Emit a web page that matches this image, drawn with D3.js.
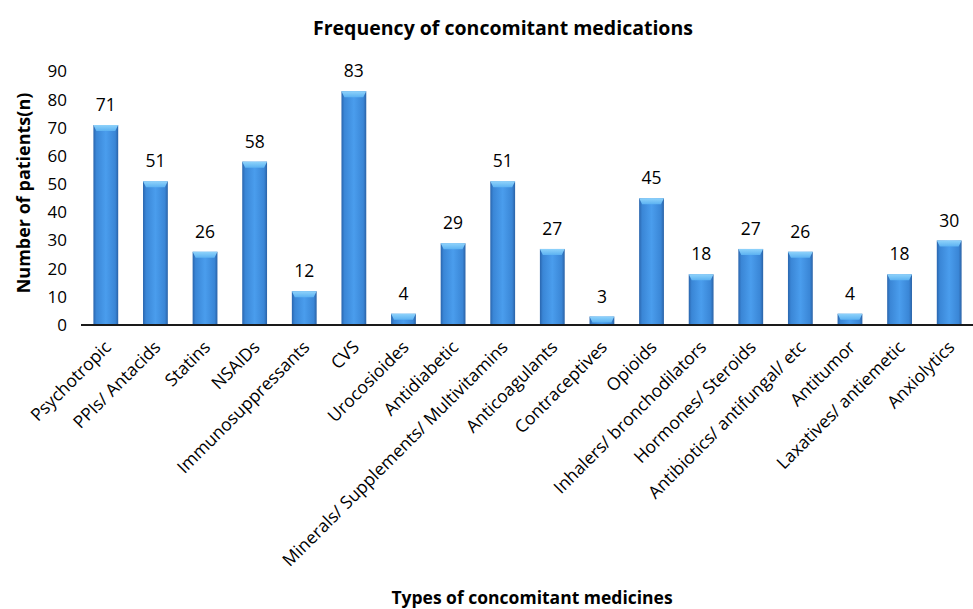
<!DOCTYPE html>
<html><head><meta charset="utf-8">
<script src="https://cdn.jsdelivr.net/npm/d3@7"></script>
<style>body{margin:0;background:#fff}svg{display:block}text{font-family:"Open Sans",sans-serif;fill:#000}</style>
</head><body>
<svg id="c" width="973" height="609"></svg>
<script>
const categories = ["Psychotropic","PPIs/ Antacids","Statins","NSAIDs","Immunosuppressants","CVS","Urocosioides","Antidiabetic","Minerals/ Supplements/ Multivitamins","Anticoagulants","Contraceptives","Opioids","Inhalers/ bronchodilators","Hormones/ Steroids","Antibiotics/ antifungal/ etc","Antitumor","Laxatives/ antiemetic","Anxiolytics"];
const values = [71,51,26,58,12,83,4,29,51,27,3,45,18,27,26,4,18,30];
const yTicks = [0,10,20,30,40,50,60,70,80,90];

const svg = d3.select("#c");
const x = d3.scaleBand().domain(categories).range([81, 974]).paddingInner(0.5).paddingOuter(0.25);
const y = d3.scaleLinear().domain([0, 90]).range([325, 71.5]);

const defs = svg.append("defs");
const g1 = defs.append("linearGradient").attr("id","barg").attr("x1","0").attr("x2","1").attr("y1","0").attr("y2","0");
[[0,"#2a65ad"],[0.12,"#3a86d6"],[0.5,"#4a9ded"],[0.88,"#3a86d6"],[1,"#2a62a6"]].forEach(([o,c])=>g1.append("stop").attr("offset",o).attr("stop-color",c));
const g2 = defs.append("linearGradient").attr("id","capg").attr("x1","0").attr("x2","0").attr("y1","0").attr("y2","1");
[[0,"#8fd3fb"],[1,"#5cb2f2"]].forEach(([o,c])=>g2.append("stop").attr("offset",o).attr("stop-color",c));

// bars
const bars = svg.append("g");
const bw = x.bandwidth();
bars.selectAll("rect").data(values).join("rect")
  .attr("x",(d,i)=>x(categories[i])).attr("width",bw)
  .attr("y",d=>y(d)).attr("height",d=>y(0)-y(d))
  .attr("fill","url(#barg)");
bars.selectAll("path").data(values).join("path")
  .attr("d",(d,i)=>{const x0=x(categories[i]), t=y(d), h=Math.min(6, y(0)-y(d));
    return `M${x0},${t}L${x0+bw},${t}L${x0+bw-3},${t+h}L${x0+3},${t+h}Z`;})
  .attr("fill","url(#capg)");

// data labels
svg.append("g").selectAll("text").data(values).join("text")
  .attr("x",(d,i)=>x(categories[i])+bw/2).attr("y",d=>y(d)-14)
  .attr("text-anchor","middle").style("font-size","17.5px").text(d=>d);

// y axis tick labels
svg.append("g").selectAll("text").data(yTicks).join("text")
  .attr("x",67).attr("y",d=>y(d)).attr("dy","0.35em")
  .attr("text-anchor","end").style("font-size","17px").text(d=>d);

// x axis
const xa = svg.append("g").attr("transform",`translate(0,${y(0)})`)
  .call(d3.axisBottom(x).tickSize(0).tickPadding(0));
xa.select(".domain").attr("stroke","#1a1a1a").attr("stroke-width",2).attr("d","M81,0H973");
xa.selectAll(".tick text").attr("transform","translate(2,19) rotate(-45)")
  .attr("text-anchor","end").attr("dy","0.35em").attr("y",0)
  .style("font-size","17.5px").style("font-family","Open Sans").attr("fill","#000");

// titles
svg.append("text").attr("x",503).attr("y",35).attr("text-anchor","middle")
  .style("font-size","19.5px").style("font-weight","bold").text("Frequency of concomitant medications");
svg.append("text").attr("x",532).attr("y",604).attr("text-anchor","middle")
  .style("font-size","17.5px").style("font-weight","bold").text("Types of concomitant medicines");
svg.append("text").attr("transform","translate(30,193) rotate(-90)").attr("text-anchor","middle")
  .style("font-size","18px").style("font-weight","bold").text("Number of patients(n)");
</script></body></html>
